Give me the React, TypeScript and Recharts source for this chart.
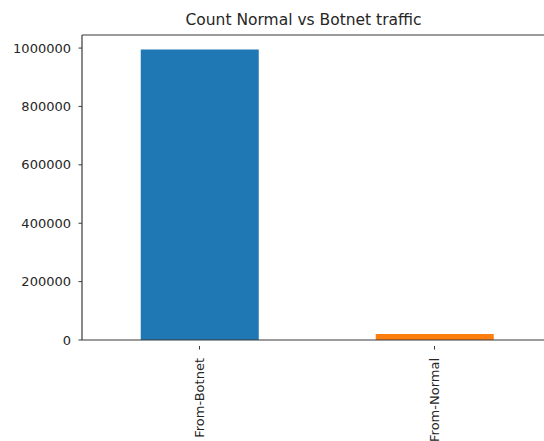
import { Bar, BarChart, Cell, ReferenceLine, XAxis, YAxis } from 'recharts';

const categories = ['From-Botnet', 'From-Normal'];
const counts = [995000, 20500];
const barColors = ['#1f77b4', '#ff7f0e'];
const yTicks = [0, 200000, 400000, 600000, 800000, 1000000];

const data = categories.map((label, i) => ({ label, count: counts[i] }));
// matplotlib-style 5% headroom above the tallest bar
const yMax = Math.max(...counts) * 1.05;

const TEXT = '#262626';
const SPINE = '#3a3a3a';
const FONT = '"DejaVu Sans", sans-serif';

function RotatedTick({ x, y, payload }: { x?: number; y?: number; payload?: { value: string } }) {
  if (x == null || y == null || !payload) return null;
  return (
    <g>
      <line x1={x} y1={y - 12} x2={x} y2={y - 8.5} stroke={SPINE} strokeWidth={1} />
      <text
        x={x}
        y={y}
        transform={`rotate(-90, ${x}, ${y})`}
        textAnchor="end"
        dominantBaseline="central"
        fontSize={13}
        fontFamily={FONT}
        fill={TEXT}
      >
        {payload.value}
      </text>
    </g>
  );
}

export default function App() {
  return (
    <div
      style={{
        position: 'absolute',
        left: 0,
        top: 0,
        width: 544,
        height: 441,
        overflow: 'hidden',
        background: '#fff',
      }}
    >
      {/* Title */}
      <div
        style={{
          position: 'absolute',
          left: 0,
          width: 607,
          top: 10,
          textAlign: 'center',
          fontFamily: FONT,
          fontSize: 15.5,
          color: TEXT,
          lineHeight: '20px',
        }}
      >
        Count Normal vs Botnet traffic
      </div>

      <BarChart
        width={560}
        height={441}
        data={data}
        margin={{ top: 35, right: 8, bottom: 0, left: 0 }}
        barCategoryGap="25%"
      >
        <XAxis
          dataKey="label"
          height={101}
          tickLine={false}
          axisLine={{ stroke: SPINE, strokeWidth: 1.2 }}
          tick={<RotatedTick />}
          tickMargin={12}
          interval={0}
        />
        <YAxis
          width={82}
          domain={[0, yMax]}
          ticks={yTicks}
          interval={0}
          tickSize={3.5}
          tickMargin={7.5}
          tickLine={{ stroke: SPINE }}
          axisLine={{ stroke: SPINE, strokeWidth: 1.2 }}
          tick={{ fontSize: 13, fontFamily: FONT, fill: TEXT }}
          allowDataOverflow
        />
        {/* top spine */}
        <ReferenceLine y={yMax} stroke={SPINE} strokeWidth={1.2} ifOverflow="extendDomain" />
        <Bar dataKey="count" isAnimationActive={false}>
          {data.map((d, i) => (
            <Cell key={d.label} fill={barColors[i]} />
          ))}
        </Bar>
      </BarChart>
    </div>
  );
}
